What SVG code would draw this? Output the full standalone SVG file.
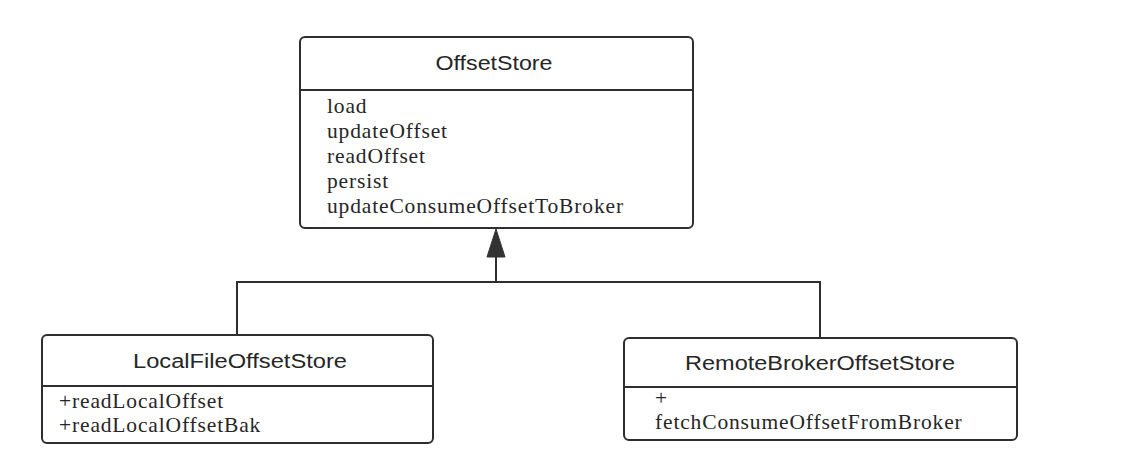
<svg xmlns="http://www.w3.org/2000/svg" width="1124" height="463" viewBox="0 0 1124 463">
<style>
.box{fill:#fff;stroke:#2e2e2e;stroke-width:2}
.div{stroke:#2e2e2e;stroke-width:2}
.title{font-family:"Liberation Sans",Arial,sans-serif;font-size:20px;fill:#262626;text-anchor:middle}
.mem{font-family:"Liberation Serif","Times New Roman",serif;font-size:21.5px;letter-spacing:0.85px;fill:#262626}
.con{fill:none;stroke:#2e2e2e;stroke-width:2}
.head{fill:#333;stroke:#333;stroke-width:1}
</style>
<rect width="1124" height="463" fill="#fff"/>
<g id="connectors">
<path class="con" d="M237,335 V282 H820 V338"/>
<path class="con" d="M496,282 V257"/>
<path class="head" d="M496,229 L505,257 L487,257 Z"/>
</g>
<g id="OffsetStore">
<rect class="box" x="300" y="37" width="393" height="191" rx="5"/>
<line class="div" x1="300" y1="90" x2="693" y2="90"/>
<text class="title" x="494" y="70" textLength="117" lengthAdjust="spacingAndGlyphs">OffsetStore</text>
<text class="mem" x="327" y="113">load</text>
<text class="mem" x="327" y="138">updateOffset</text>
<text class="mem" x="327" y="163">readOffset</text>
<text class="mem" x="327" y="188">persist</text>
<text class="mem" x="327" y="213">updateConsumeOffsetToBroker</text>
</g>
<g id="LocalFileOffsetStore">
<rect class="box" x="42" y="335" width="391" height="108" rx="5"/>
<line class="div" x1="42" y1="386" x2="433" y2="386"/>
<text class="title" x="240" y="368" textLength="214" lengthAdjust="spacingAndGlyphs">LocalFileOffsetStore</text>
<text class="mem" x="59" y="408">+readLocalOffset</text>
<text class="mem" x="59" y="432">+readLocalOffsetBak</text>
</g>
<g id="RemoteBrokerOffsetStore">
<rect class="box" x="624" y="338" width="393" height="102" rx="5"/>
<line class="div" x1="624" y1="387" x2="1017" y2="387"/>
<text class="title" x="820" y="370" textLength="270" lengthAdjust="spacingAndGlyphs">RemoteBrokerOffsetStore</text>
<text class="mem" x="655" y="405">+</text>
<text class="mem" x="655" y="429">fetchConsumeOffsetFromBroker</text>
</g>
</svg>
